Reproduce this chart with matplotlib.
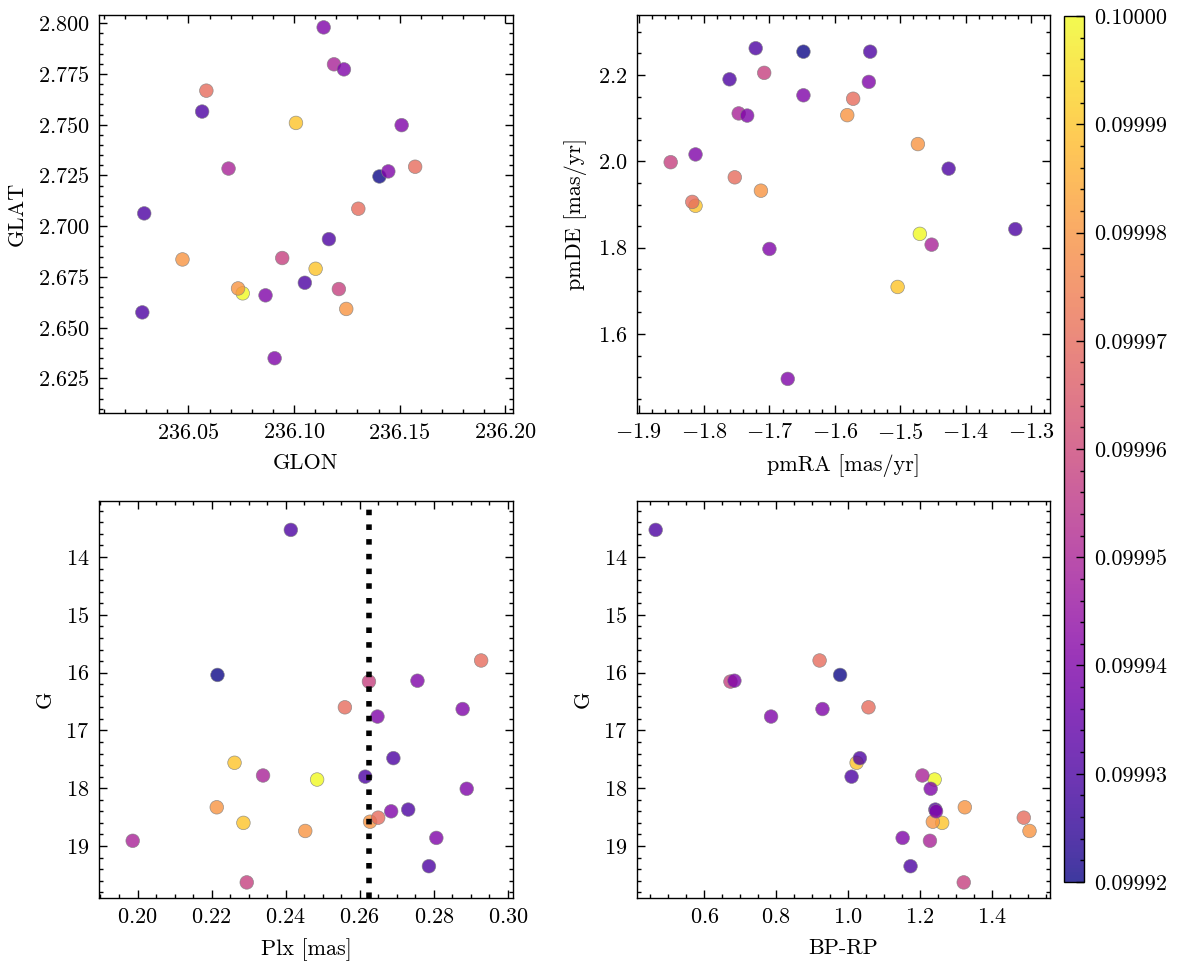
import matplotlib
matplotlib.use('Agg')
import matplotlib.pyplot as plt
from matplotlib.ticker import MultipleLocator, AutoMinorLocator, FormatStrFormatter, ScalarFormatter
import numpy as np

# science-style look (serif, inward ticks on all sides)
plt.rcParams.update({
    'font.family': 'serif',
    'font.serif': ['cmr10'],
    'mathtext.fontset': 'cm',
    'axes.formatter.use_mathtext': True,
    'font.size': 8,
    'axes.linewidth': 0.5,
    'xtick.direction': 'in',
    'ytick.direction': 'in',
    'xtick.top': True,
    'ytick.right': True,
    'xtick.minor.visible': True,
    'ytick.minor.visible': True,
    'xtick.major.size': 3,
    'ytick.major.size': 3,
    'xtick.minor.size': 1.5,
    'ytick.minor.size': 1.5,
    'xtick.major.width': 0.5,
    'ytick.major.width': 0.5,
    'xtick.minor.width': 0.5,
    'ytick.minor.width': 0.5,
})

# cluster members, grouped by membership colour
# order: dark blue, yellow, gold, indigo, orange, salmon, pink, magenta, purple
glon = [236.1404,
        236.0757,
        236.1009, 236.1102,
        236.0565, 236.0291, 236.1165, 236.1051, 236.0282,
        236.0472, 236.0735, 236.1247,
        236.0585, 236.1573, 236.1304,
        236.0944, 236.1212,
        236.1189, 236.0690,
        236.1140, 236.1236, 236.1509, 236.1446, 236.0865, 236.0908]
glat = [2.7245,
        2.6669,
        2.7509, 2.6790,
        2.7565, 2.7063, 2.6936, 2.6721, 2.6575,
        2.6836, 2.6693, 2.6592,
        2.7668, 2.7293, 2.7086,
        2.6843, 2.6690,
        2.7798, 2.7284,
        2.7980, 2.7773, 2.7498, 2.7270, 2.6659, 2.6349]
pmra = [-1.648,
        -1.470,
        -1.813, -1.504,
        -1.721, -1.546, -1.761, -1.426, -1.324,
        -1.581, -1.473, -1.713,
        -1.572, -1.753, -1.818,
        -1.708, -1.851,
        -1.747, -1.452,
        -1.548, -1.648, -1.734, -1.813, -1.700, -1.672]
pmde = [2.254,
        1.832,
        1.897, 1.709,
        2.262, 2.254, 2.190, 1.983, 1.843,
        2.107, 2.040, 1.932,
        2.145, 1.963, 1.906,
        2.205, 1.998,
        2.111, 1.807,
        2.184, 2.153, 2.106, 2.016, 1.797, 1.496]
plx = [0.2216,
       0.2485,
       0.2262, 0.2286,
       0.2414, 0.2691, 0.2615, 0.2731, 0.2787,
       0.2214, 0.2628, 0.2453,
       0.2928, 0.2560, 0.2650,
       0.2625, 0.2295,
       0.2339, 0.1987,
       0.2756, 0.2878, 0.2648, 0.2889, 0.2685, 0.2807]
gmag = [16.04,
        17.85,
        17.56, 18.60,
        13.53, 17.48, 17.80, 18.37, 19.35,
        18.33, 18.58, 18.74,
        15.79, 16.60, 18.51,
        16.155, 19.63,
        17.78, 18.91,
        16.14, 16.63, 16.76, 18.01, 18.40, 18.86]
bprp = [0.978,
        1.241,
        1.024, 1.262,
        0.465, 1.033, 1.010, 1.243, 1.174,
        1.325, 1.236, 1.505,
        0.921, 1.057, 1.489,
        0.673, 1.322,
        1.207, 1.228,
        0.684, 0.929, 0.786, 1.230, 1.245, 1.152]
prob = [0.09992,
        0.10000,
        0.09999, 0.09999,
        0.09993, 0.09993, 0.09993, 0.09993, 0.09993,
        0.09998, 0.09998, 0.09998,
        0.09997, 0.09997, 0.09997,
        0.099958, 0.099958,
        0.09995, 0.09995,
        0.09994, 0.09994, 0.09994, 0.09994, 0.09994, 0.09994]

plx_mean = 0.2625

W, H = 1177, 965
fig = plt.figure(figsize=(W / 200, H / 200), dpi=200)

def px_axes(l, t, r, b):
    return fig.add_axes([l / W, 1 - b / H, (r - l) / W, (b - t) / H])

ax1 = px_axes(99, 15, 513, 413)
ax2 = px_axes(637, 15, 1050, 413)
ax3 = px_axes(99, 501, 513, 898)
ax4 = px_axes(637, 501, 1050, 898)
cax = px_axes(1064, 16, 1084, 882)

kw = dict(c=prob, cmap='plasma', vmin=0.09992, vmax=0.10000, s=24,
          alpha=0.8, edgecolors='gray', linewidths=0.25)

sc = ax1.scatter(glon, glat, **kw)
ax1.set_xlabel('GLON')
ax1.set_ylabel('GLAT')
ax1.set_xlim(236.0077, 236.2036)
ax1.set_ylim(2.6079, 2.8041)
ax1.xaxis.set_major_locator(MultipleLocator(0.05))
ax1.yaxis.set_major_locator(MultipleLocator(0.025))
ax1.xaxis.set_major_formatter(ScalarFormatter(useOffset=False))

ax2.scatter(pmra, pmde, **kw)
ax2.set_xlabel('pmRA [mas/yr]')
ax2.set_ylabel('pmDE [mas/yr]')
ax2.set_xlim(-1.9025, -1.271)
ax2.set_ylim(1.417, 2.339)
ax2.xaxis.set_major_locator(MultipleLocator(0.1))
ax2.yaxis.set_major_locator(MultipleLocator(0.2))

ax3.scatter(plx, gmag, **kw)
ax3.axvline(plx_mean, color='k', ls=':', lw=2)
ax3.set_xlabel('Plx [mas]')
ax3.set_ylabel('G')
ax3.set_xlim(0.1896, 0.3014)
ax3.set_ylim(19.90, 13.03)
ax3.xaxis.set_major_locator(MultipleLocator(0.02))
ax3.yaxis.set_major_locator(MultipleLocator(1))

ax4.scatter(bprp, gmag, **kw)
ax4.set_xlabel('BP-RP')
ax4.set_ylabel('G')
ax4.set_xlim(0.413, 1.562)
ax4.set_ylim(19.90, 13.03)
ax4.xaxis.set_major_locator(MultipleLocator(0.2))
ax4.yaxis.set_major_locator(MultipleLocator(1))

for ax in [ax1, ax2, ax3, ax4]:
    ax.xaxis.set_minor_locator(AutoMinorLocator())
    ax.yaxis.set_minor_locator(AutoMinorLocator())

cb = fig.colorbar(sc, cax=cax)
cb.outline.set_linewidth(0.5)
cb.set_ticks(np.round(np.arange(0.09992, 0.100001, 0.00001), 5))
cb.ax.yaxis.set_major_formatter(FormatStrFormatter('%.5f'))
cb.ax.yaxis.set_minor_locator(AutoMinorLocator())
cb.ax.tick_params(which='both', direction='in')

fig.savefig('out.png', dpi=200)
